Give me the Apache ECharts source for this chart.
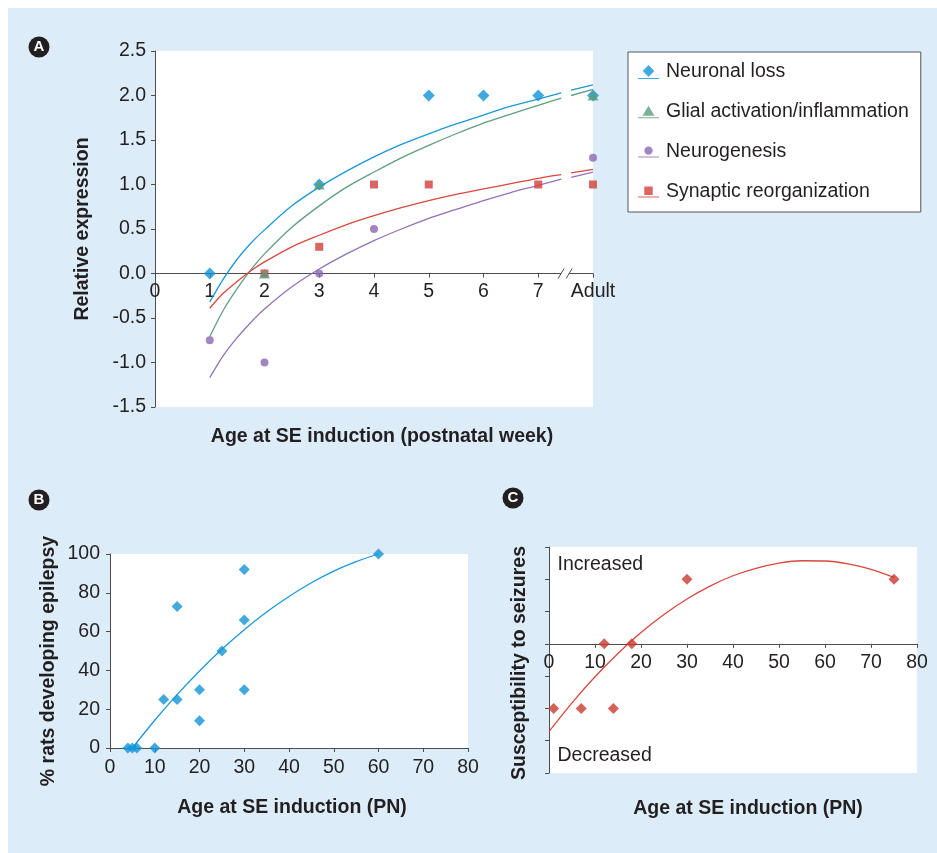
<!DOCTYPE html>
<html><head><meta charset="utf-8">
<script src="https://cdn.jsdelivr.net/npm/echarts@6/dist/echarts.min.js"></script>
<style>
html,body{margin:0;padding:0;background:#fff;}
#chart{width:937px;height:853px;background:linear-gradient(#dcedf9,#dcedf9) 8px 8px/929px 845px no-repeat,#fff;}
</style></head><body><div id="chart"></div>
<script>
// ---------- Panel A ----------
const aXTickLabels = ['0','1','2','3','4','5','6','7','Adult'];
const aLegendNames = ['Neuronal loss','Glial activation/inflammation','Neurogenesis','Synaptic reorganization'];
const neuronalLoss = [[1,0],[3,1],[5,2],[6,2],[7,2],[8,2]];
const glialActivation = [[2,0],[3,1],[8,2]];
const neurogenesis = [[1,-0.75],[2,-1],[3,0],[4,0.5],[8,1.3]];
const synapticReorg = [[2,0],[3,0.3],[4,1],[5,1],[7,1],[8,1]];
// trend curves (null = axis break gap)
const neuronalLossFit = [[1,-0.32],[1.25,-0.06],[1.5,0.16],[1.75,0.34],[2,0.49],[2.5,0.76],[3,0.97],[3.5,1.15],[4,1.31],[4.5,1.45],[5,1.57],[5.5,1.68],[6,1.78],[6.5,1.88],[7,1.96],[7.42,2.03],[7.5,null],[7.6,2.06],[8,2.12]];
const glialFit = [[1,-0.71],[1.25,-0.41],[1.5,-0.17],[1.75,0.04],[2,0.22],[2.5,0.52],[3,0.76],[3.5,0.97],[4,1.14],[4.5,1.30],[5,1.44],[5.5,1.57],[6,1.69],[6.5,1.79],[7,1.89],[7.42,1.97],[7.5,null],[7.6,2.0],[8,2.07]];
const neurogenesisFit = [[1,-1.17],[1.25,-0.92],[1.5,-0.72],[1.75,-0.55],[2,-0.40],[2.5,-0.15],[3,0.05],[3.5,0.22],[4,0.37],[4.5,0.50],[5,0.62],[5.5,0.72],[6,0.82],[6.5,0.91],[7,0.99],[7.42,1.06],[7.5,null],[7.6,1.08],[8,1.14]];
const synapticFit = [[1,-0.39],[1.25,-0.22],[1.5,-0.09],[1.75,0.03],[2,0.13],[2.5,0.30],[3,0.43],[3.5,0.55],[4,0.65],[4.5,0.74],[5,0.82],[5.5,0.89],[6,0.95],[6.5,1.01],[7,1.07],[7.42,1.11],[7.5,null],[7.6,1.13],[8,1.17]];
const axisBreakAt = [[7.5,0]];

// ---------- Panel B ----------
const epilepsyPoints = [[4,0],[5,0],[6,0],[10,0],[12,25],[15,73],[15,25],[20,30],[20,14],[25,50],[30,92],[30,66],[30,30],[60,100]];
const epilepsyFit = [[5,0],[10,14.3],[15,27.5],[20,39.7],[25,50.9],[30,61],[35,70.1],[40,78.1],[45,85.2],[50,91.2],[55,96.1],[60,100]];

// ---------- Panel C ----------
const susceptibilityPoints = [[1,-2],[7,-2],[12,0],[14,-2],[18,0],[30,2],[75,2]];
const susceptibilityFit = [[0,-2.72],[5,-1.83],[10,-1.02],[15,-0.30],[20,0.35],[25,0.91],[30,1.39],[35,1.79],[40,2.11],[45,2.34],[50,2.50],[55,2.574],[60,2.567],[65,2.48],[70,2.31],[75,2.06]];

const FONT = "'Liberation Sans', Arial, Helvetica, sans-serif";
const TXT = '#231f20';
const AX = '#4d4d4d';
const FS = 19.5;
const C_BLUE = '#1193d6', C_GREEN = '#5c9c7c', C_PURPLE = '#8b68b3', C_RED = '#d2403a';

// grid boxes (layout only)
const GA = {left:155,top:51,width:438,height:356};
const GB = {left:110,top:554,width:358,height:194};
const GC = {left:549,top:547,width:368,height:226};
// offsets moving the x axes up to the zero line of their y ranges
const offA = -GA.height * (0 - (-1.5)) / (2.5 - (-1.5));
const offC = -GC.height * (0 - (-4)) / (3 - (-4));

function axisBase(extra){
  return Object.assign({
    type:'value',
    axisLine:{show:true,onZero:false,lineStyle:{color:AX,width:1}},
    axisTick:{show:true,inside:false,length:4,lineStyle:{color:AX}},
    splitLine:{show:false},
    axisLabel:{color:TXT,fontSize:FS,fontFamily:FONT},
    nameTextStyle:{color:TXT,fontSize:FS,fontWeight:'bold',fontFamily:FONT}
  }, extra);
}

const legendIcons = [
  'path://M10.5 0 L16.2 6 L10.5 12 L4.8 6 Z M0 13 L21 13 L21 14 L0 14 Z',
  'path://M10.5 1.5 L16.5 11.5 L4.5 11.5 Z M0 13 L21 13 L21 14 L0 14 Z',
  'path://M14.7 7 A4.2 4.2 0 1 1 6.3 7 A4.2 4.2 0 1 1 14.7 7 Z M0 13 L21 13 L21 14 L0 14 Z',
  'path://M6.3 3 L14.7 3 L14.7 11.4 L6.3 11.4 Z M0 13 L21 13 L21 14 L0 14 Z'
];

const gridCommon = {show:true,backgroundColor:'#fff',borderWidth:0,containLabel:false,outerBoundsMode:'none'};

const option = {
  animation:false,
  backgroundColor:'transparent',
  textStyle:{fontFamily:FONT,color:TXT},
  grid:[
    Object.assign({},GA,gridCommon),
    Object.assign({},GB,gridCommon),
    Object.assign({},GC,gridCommon)
  ],
  xAxis:[
    axisBase({gridIndex:0,min:0,max:8,interval:1,position:'bottom',offset:offA,
      axisLabel:{color:TXT,fontSize:FS,fontFamily:FONT,margin:8,formatter:(v)=>aXTickLabels[Math.round(v)]},
      name:'Age at SE induction (postnatal week)',nameLocation:'middle',nameGap:153,
      nameTextStyle:{color:TXT,fontSize:FS,fontWeight:'bold',fontFamily:FONT,padding:[0,0,0,16]}}),
    axisBase({gridIndex:1,min:0,max:80,interval:10,
      axisLabel:{color:TXT,fontSize:FS,fontFamily:FONT,margin:10},
      name:'Age at SE induction (PN)',nameLocation:'middle',nameGap:50,
      nameTextStyle:{color:TXT,fontSize:FS,fontWeight:'bold',fontFamily:FONT,padding:[0,0,0,6]}}),
    axisBase({gridIndex:2,min:0,max:80,interval:10,position:'bottom',offset:offC,
      axisLabel:{color:TXT,fontSize:FS,fontFamily:FONT,margin:9},
      name:'Age at SE induction (PN)',nameLocation:'middle',nameGap:155,
      nameTextStyle:{color:TXT,fontSize:FS,fontWeight:'bold',fontFamily:FONT,padding:[0,0,0,30]}})
  ],
  yAxis:[
    axisBase({gridIndex:0,min:-1.5,max:2.5,interval:0.5,
      axisLabel:{color:TXT,fontSize:FS,fontFamily:FONT,margin:9,formatter:(v)=>v.toFixed(1)},
      name:'Relative expression',nameLocation:'middle',nameGap:62}),
    axisBase({gridIndex:1,min:0,max:100,interval:20,
      axisLabel:{color:TXT,fontSize:FS,fontFamily:FONT,margin:10},
      name:'% rats developing epilepsy',nameLocation:'middle',nameGap:51,
      nameTextStyle:{color:TXT,fontSize:FS,fontWeight:'bold',fontFamily:FONT,padding:[0,20,0,0]}}),
    axisBase({gridIndex:2,min:-4,max:3,interval:1,
      axisLabel:{show:false},
      name:'Susceptibility to seizures',nameLocation:'middle',nameGap:19,
      nameTextStyle:{color:TXT,fontSize:FS,fontWeight:'bold',fontFamily:FONT,padding:[0,6,0,0]}})
  ],
  legend:{
    orient:'vertical',left:628,top:52,
    padding:[10,12,10,10],itemGap:20,itemWidth:21,itemHeight:14,
    backgroundColor:'#fff',borderColor:'#555',borderWidth:1,
    textStyle:{color:TXT,fontSize:FS,fontFamily:FONT,padding:[0,0,0,2]},
    selectedMode:false,
    data:aLegendNames.map((n,i)=>({name:n,icon:legendIcons[i]}))
  },
  series:[
    {type:'line',name:'Neuronal loss fit',xAxisIndex:0,yAxisIndex:0,data:neuronalLossFit,smooth:0.3,showSymbol:false,connectNulls:false,lineStyle:{color:'#1a98d8',width:1.3},z:2,silent:true},
    {type:'line',name:'Glial fit',xAxisIndex:0,yAxisIndex:0,data:glialFit,smooth:0.3,showSymbol:false,connectNulls:false,lineStyle:{color:'#5e9f80',width:1.3},z:2,silent:true},
    {type:'line',name:'Neurogenesis fit',xAxisIndex:0,yAxisIndex:0,data:neurogenesisFit,smooth:0.3,showSymbol:false,connectNulls:false,lineStyle:{color:'#9273b8',width:1.3},z:2,silent:true},
    {type:'line',name:'Synaptic fit',xAxisIndex:0,yAxisIndex:0,data:synapticFit,smooth:0.3,showSymbol:false,connectNulls:false,lineStyle:{color:'#d9473d',width:1.3},z:2,silent:true},
    {type:'scatter',name:aLegendNames[0],xAxisIndex:0,yAxisIndex:0,data:neuronalLoss,symbol:'diamond',symbolSize:12,itemStyle:{color:C_BLUE},z:3},
    {type:'scatter',name:aLegendNames[3],xAxisIndex:0,yAxisIndex:0,data:synapticReorg,symbol:'rect',symbolSize:8,itemStyle:{color:C_RED},z:3},
    {type:'scatter',name:aLegendNames[2],xAxisIndex:0,yAxisIndex:0,data:neurogenesis,symbol:'circle',symbolSize:8,itemStyle:{color:C_PURPLE},z:3},
    {type:'scatter',name:aLegendNames[1],xAxisIndex:0,yAxisIndex:0,data:glialActivation,symbol:'triangle',symbolSize:[11,10],itemStyle:{color:C_GREEN},z:4},
    {type:'custom',name:'break',xAxisIndex:0,yAxisIndex:0,data:axisBreakAt,z:5,silent:true,clip:false,
      renderItem:(params,api)=>{
        const p = api.coord([api.value(0),api.value(1)]);
        return {type:'group',children:[
          {type:'rect',shape:{x:p[0]-4.5,y:p[1]-2,width:8,height:4},style:{fill:'#fff'}},
          {type:'line',shape:{x1:p[0]-7.5,y1:p[1]+5,x2:p[0]-1.5,y2:p[1]-5},style:{stroke:AX,lineWidth:1}},
          {type:'line',shape:{x1:p[0]+0.5,y1:p[1]+5,x2:p[0]+6.5,y2:p[1]-5},style:{stroke:AX,lineWidth:1}}
        ]};
      }},
    {type:'line',name:'Epilepsy fit',xAxisIndex:1,yAxisIndex:1,data:epilepsyFit,smooth:0.3,showSymbol:false,lineStyle:{color:'#1a98d8',width:1.3},z:2,silent:true},
    {type:'scatter',name:'Epilepsy',xAxisIndex:1,yAxisIndex:1,data:epilepsyPoints,symbol:'diamond',symbolSize:11,itemStyle:{color:C_BLUE},z:3},
    {type:'line',name:'Susceptibility fit',xAxisIndex:2,yAxisIndex:2,data:susceptibilityFit,smooth:0.3,showSymbol:false,lineStyle:{color:'#d9473d',width:1.3},z:2,silent:true},
    {type:'scatter',name:'Susceptibility',xAxisIndex:2,yAxisIndex:2,data:susceptibilityPoints,symbol:'diamond',symbolSize:11,itemStyle:{color:'#cc3a30'},z:3}
  ],
  graphic:[
    {type:'circle',shape:{cx:39,cy:47,r:10.5},style:{fill:'#231f20'}},
    {type:'text',x:39,y:47,style:{text:'A',fill:'#fff',font:"bold 15px "+FONT,align:'center',verticalAlign:'middle'}},
    {type:'circle',shape:{cx:39,cy:500,r:10.5},style:{fill:'#231f20'}},
    {type:'text',x:39,y:500,style:{text:'B',fill:'#fff',font:"bold 15px "+FONT,align:'center',verticalAlign:'middle'}},
    {type:'circle',shape:{cx:513,cy:498,r:10.5},style:{fill:'#231f20'}},
    {type:'text',x:513,y:498,style:{text:'C',fill:'#fff',font:"bold 15px "+FONT,align:'center',verticalAlign:'middle'}},
    {type:'text',x:557.5,y:565,z:10,style:{text:'Increased',fill:TXT,font:FS+"px "+FONT,align:'left',verticalAlign:'middle'}},
    {type:'text',x:557.5,y:756,z:10,style:{text:'Decreased',fill:TXT,font:FS+"px "+FONT,align:'left',verticalAlign:'middle'}}
  ]
};
const chart = echarts.init(document.getElementById('chart'),null,{renderer:'canvas'});
chart.setOption(option);
</script></body></html>
